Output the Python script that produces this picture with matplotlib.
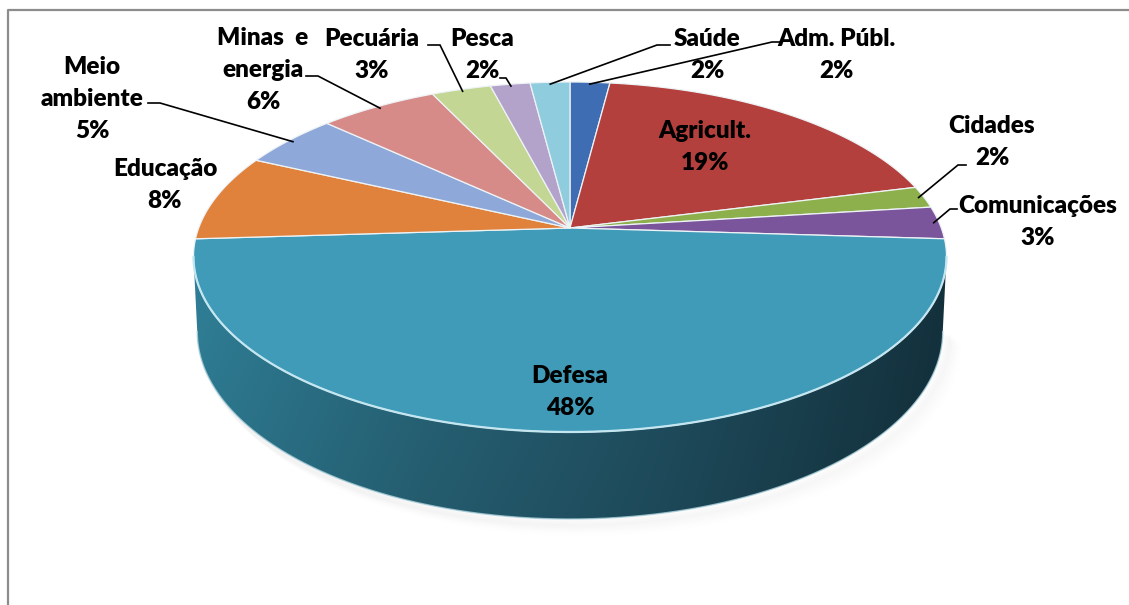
import numpy as np
import matplotlib
matplotlib.use("Agg")
import matplotlib.pyplot as plt
from matplotlib.patches import Polygon

# ---- data -------------------------------------------------------------
categories = ["Adm. Públ.", "Agricult.", "Cidades", "Comunicações", "Defesa",
              "Educação", "Meio ambiente", "Minas e energia", "Pecuária",
              "Pesca", "Saúde"]
shares = [2, 19, 2, 3, 48, 8, 5, 6, 3, 2, 2]
label_texts = ["Adm. Públ.", "Agricult.", "Cidades", "Comunicações", "Defesa",
               "Educação", "Meio\nambiente", "Minas  e\nenergia", "Pecuária",
               "Pesca", "Saúde"]

# ---- styling ----------------------------------------------------------
top_colors = ["#3F6DB3", "#B4403D", "#8DB04D", "#7A559B", "#3F9BB8",
              "#E0823B", "#8EA9D9", "#D68B89", "#C3D693", "#B3A3CB", "#8ECCDE"]

# label block centres (pixels) and leader geometry: (start, elbow)
label_pos = {
    "Adm. Públ.": (836, 55), "Agricult.": (705, 147), "Cidades": (992, 142),
    "Comunicações": (1038, 222), "Defesa": (570, 392), "Educação": (165, 185),
    "Meio ambiente": (92, 99), "Minas e energia": (263, 70),
    "Pecuária": (372, 55), "Pesca": (482, 55), "Saúde": (707, 55),
}
leaders = {
    "Adm. Públ.": ((780, 42), (772, 42)),
    "Cidades": ((966, 165), (958, 165)),
    "Comunicações": ((957, 209), (950, 209)),
    "Meio ambiente": ((148, 103), (160, 103)),
    "Minas e energia": ((306, 76), (318, 76)),
    "Pecuária": ((428, 45), (440, 45)),
    "Pesca": ((500, 78), (506, 78)),
    "Saúde": ((670, 45), (657, 45)),
}

W, H = 1129, 605
fig = plt.figure(figsize=(W / 100, H / 100), dpi=100)
ax = fig.add_axes([0, 0, 1, 1])
ax.set_xlim(0, W)
ax.set_ylim(H, 0)
ax.axis("off")

# perspective disc projection
cx, cy = 570.0, 228.0
A, B, k = 371.3, 170.2, 0.1657
depth = 72.6
shrink = 0.99


def proj(phi_deg, r=1.0):
    phi = np.radians(phi_deg)
    u = r * np.sin(phi)
    v = -r * np.cos(phi)
    w = 1 - k * v
    return cx + A * u / w, cy + B * v / w, w


def proj_bottom(phi_deg):
    x, y, w = proj(phi_deg)
    return cx + shrink * (x - cx), y + depth / w


bounds = np.concatenate([[0], np.cumsum(shares)]) / sum(shares) * 360.0

# visible side wall: front arc between the two silhouette points
phi_r = 90 + np.degrees(np.arcsin(k))
phi_l = 270 - np.degrees(np.arcsin(k))
arc = np.linspace(phi_r, phi_l, 300)
top_edge = np.array([proj(p)[:2] for p in arc])
bot_edge = np.array([proj_bottom(p) for p in arc])
wall_poly = np.vstack([top_edge, bot_edge[::-1]])
wall = Polygon(wall_poly, closed=True, facecolor="none", edgecolor="none")
ax.add_patch(wall)

# soft shadow under the pie
for i, a in enumerate(np.linspace(0.012, 0.004, 6)):
    sh = Polygon(np.column_stack([bot_edge[:, 0] + 4 + i * 2,
                                  bot_edge[:, 1] + 3 + i * 2]),
                 closed=False, fill=False, edgecolor="black", alpha=a,
                 linewidth=6)
    ax.add_patch(sh)

# horizontal gradient on the wall
gx = np.linspace(0, 1, 400)
stops_x = [0.0, 0.3, 0.6, 1.0]
c_left = np.array([48, 128, 152]) / 255
c_m1 = np.array([40, 102, 122]) / 255
c_m2 = np.array([33, 82, 100]) / 255
c_right = np.array([20, 50, 62]) / 255
cols = np.array([c_left, c_m1, c_m2, c_right])
grad = np.stack([np.interp(gx, stops_x, cols[:, j]) for j in range(3)], axis=-1)
gy = np.linspace(1.0, 0.9, 60)[:, None, None]
img = np.clip(grad[None, :, :] * gy, 0, 1)
x0, x1 = wall_poly[:, 0].min(), wall_poly[:, 0].max()
y0, y1 = wall_poly[:, 1].min(), wall_poly[:, 1].max()
im = ax.imshow(img, extent=[x0, x1, y1, y0], aspect="auto", zorder=2,
               interpolation="bilinear")
im.set_clip_path(wall)

# bottom rim highlight
ax.plot(bot_edge[:, 0], bot_edge[:, 1], color="#A9CFDB", lw=1.0, zorder=3,
        alpha=0.8)

# top faces
for i, color in enumerate(top_colors):
    a0, a1 = bounds[i], bounds[i + 1]
    n = max(int((a1 - a0) * 2), 4)
    pts = [proj(p)[:2] for p in np.linspace(a0, a1, n)]
    poly = np.vstack([[cx, cy], pts])
    ax.add_patch(Polygon(poly, closed=True, facecolor=color,
                         edgecolor="#EEF3F6", linewidth=0.9, zorder=4,
                         joinstyle="round"))

# front rim highlight on the top face
ax.plot(top_edge[:, 0], top_edge[:, 1], color="#C4E6F0", lw=1.6, zorder=5)

# labels and leader lines
font = dict(family=["Lato", "DejaVu Sans"], fontweight="heavy", fontsize=17.5,
            color="black")
for i, (cat, txt) in enumerate(zip(categories, label_texts)):
    lx, ly = label_pos[cat]
    ax.text(lx, ly, f"{txt}\n{shares[i]}%", ha="center", va="center",
            linespacing=1.55, zorder=6, **font)
    if cat in leaders:
        (sx, sy), (ex, ey) = leaders[cat]
        mid = (bounds[i] + bounds[i + 1]) / 2
        tx, ty, _ = proj(mid, 0.985)
        ax.plot([sx, ex, tx], [sy, ey, ty], color="black", lw=1.2, zorder=6,
                solid_joinstyle="miter")

# chart frame
ax.plot([8, 8, W], [H, 10, 10], color="#8C8C8C", lw=1.6, zorder=7)

fig.savefig("out.png", dpi=100)
